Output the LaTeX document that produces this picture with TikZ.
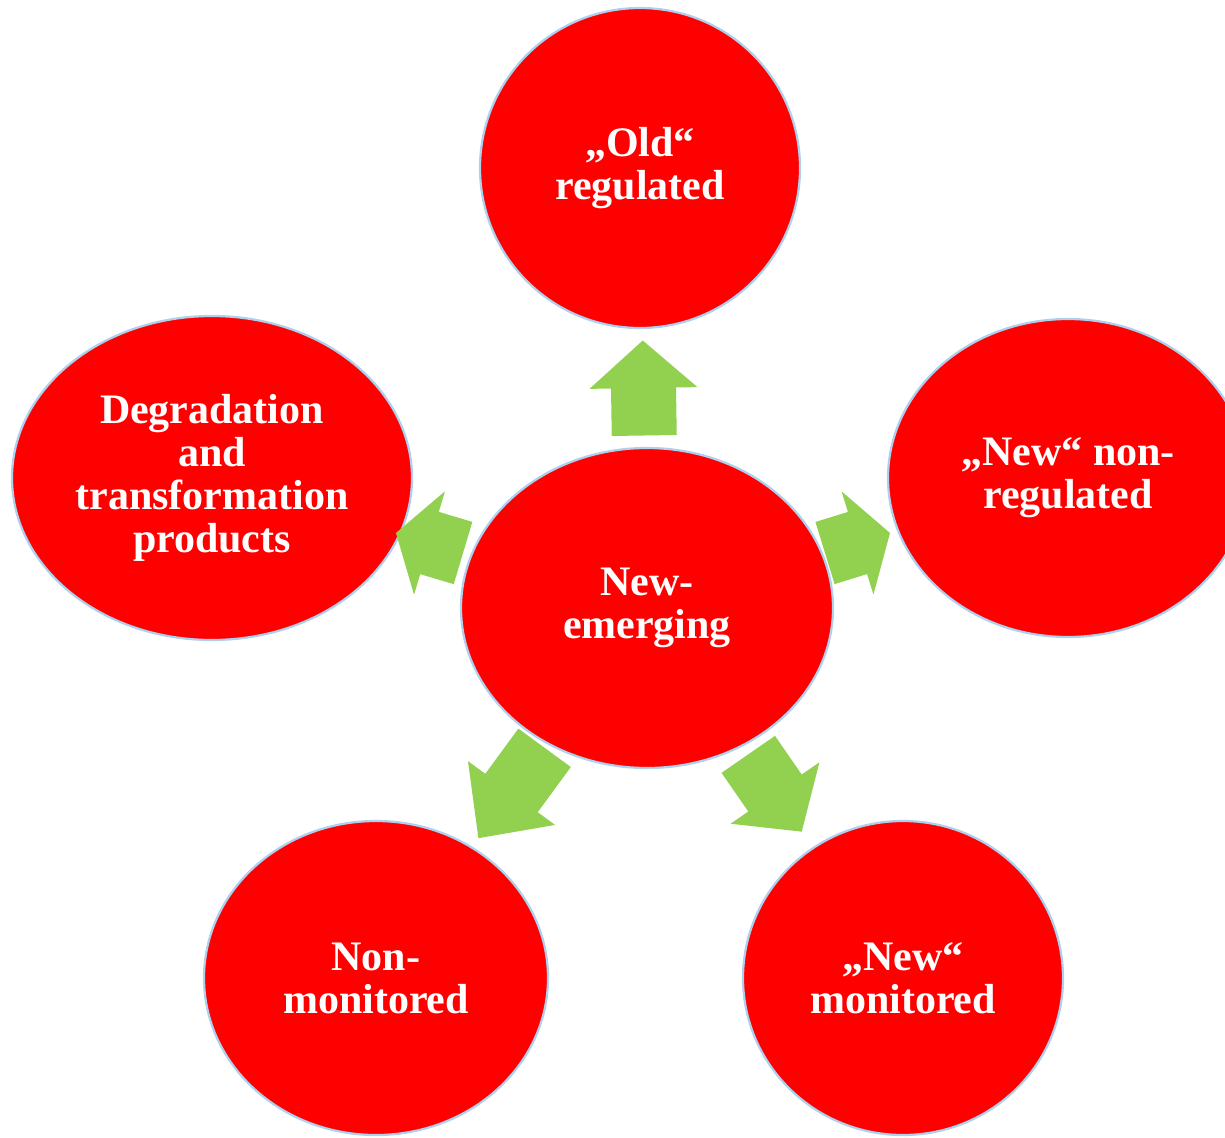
\documentclass[tikz,border=0pt]{standalone}
\usepackage{fontspec}
\setmainfont{Liberation Serif}
\usetikzlibrary{calc,shapes.geometric}

\definecolor{bubblered}{RGB}{255,0,0}
\definecolor{rimblue}{RGB}{172,208,238}
\definecolor{spokegreen}{RGB}{146,208,80}

\tikzset{
  bubble/.style={ellipse, fill=bubblered, draw=rimblue, line width=2.2pt,
    inner sep=0pt, text=white, align=center,
    font=\fontsize{42}{43}\selectfont\bfseries},
  % block arrow, pointing along +x, #1 = overall length
  spoke/.pic={
    \fill[spokegreen] (-#1/2,-32.5) -- (0,-32.5) -- (0,-54) -- (#1/2,0)
      -- (0,54) -- (0,32.5) -- (-#1/2,32.5) -- cycle;
  }
}

\begin{document}
\begin{tikzpicture}[x=1pt, y=-1pt]
  \useasboundingbox (0,0) rectangle (1225,1137);
  \clip (0,0) rectangle (1225,1137);

  % hub and the five outer bubbles
  \node[bubble, minimum width=372pt, minimum height=320pt] (hub) at (647,608) {New-\\emerging};
  \node[bubble, minimum width=320pt, minimum height=320pt] (old) at (640,168) {„Old“\\regulated};
  \node[bubble, minimum width=360pt, minimum height=318pt] (newnon) at (1068,478) {„New“ non-\\regulated};
  \node[bubble, minimum width=320pt, minimum height=314pt] (newmon) at (903,978) {„New“\\monitored};
  \node[bubble, minimum width=344pt, minimum height=314pt] (nonmon) at (376,978) {Non-\\monitored};
  \node[bubble, minimum width=400pt, minimum height=324pt] (degrad) at (212,478) {Degradation\\and\\transformation\\products};

  % green arrows from the hub outwards
  \foreach \dest/\len in {old/95, newnon/68, newmon/94, nonmon/112, degrad/70}
    \path let \p1=($(\dest)-(hub)$), \n1={atan2(\y1,\x1)} in
      pic[rotate=\n1] at ($(hub)!0.5!(\dest)$) {spoke=\len};
\end{tikzpicture}
\end{document}
